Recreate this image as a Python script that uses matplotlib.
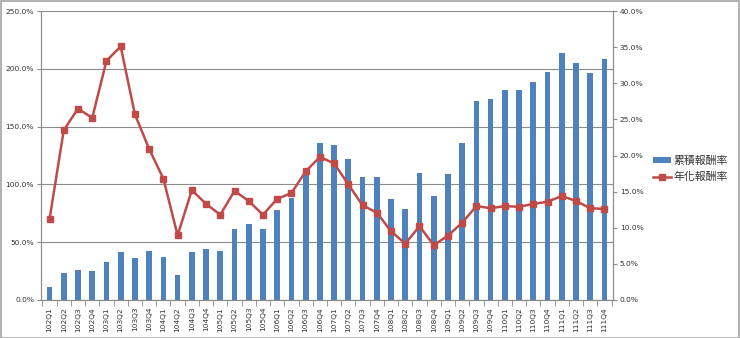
import numpy as np
import matplotlib.pyplot as plt
from matplotlib.ticker import FuncFormatter, FixedLocator
from matplotlib.patches import Rectangle

plt.rcParams['font.family'] = ['DejaVu Sans', 'Noto Sans CJK TC']

quarters = [f'{y}Q{q}' for y in range(102, 112) for q in range(1, 5)]

# cumulative return (%), left axis
cum_ret = [11.0, 23.1, 26.0, 25.1, 32.9, 41.8, 36.6, 42.4, 36.9, 21.9,
           41.8, 43.8, 42.4, 61.1, 65.7, 61.1, 77.9, 88.2, 111.0, 136.1,
           133.8, 121.7, 106.7, 106.1, 87.1, 79.0, 109.6, 90.0, 109.0, 135.5,
           171.9, 174.2, 182.0, 181.7, 188.6, 197.2, 213.4, 204.7, 196.4, 208.5]

# annualized return (%), right axis
ann_ret = [11.2, 23.5, 26.5, 25.2, 33.1, 35.1, 25.7, 20.9, 16.8, 8.95,
           15.2, 13.3, 11.8, 15.1, 13.7, 11.8, 14.0, 14.8, 17.8, 19.8,
           18.9, 16.0, 13.1, 12.1, 9.5, 7.8, 10.2, 7.6, 8.9, 10.7,
           13.0, 12.7, 13.0, 12.9, 13.3, 13.6, 14.4, 13.7, 12.7, 12.6]

BLUE = '#4F81BD'
RED = '#BE4B48'
GRID = '#8C8C8C'
TXT = '#333333'

fig = plt.figure(figsize=(7.4, 3.38), dpi=100)
ax = fig.add_axes([41 / 740, 38 / 338, 572 / 740, 289 / 338])
ax2 = ax.twinx()

x = np.arange(len(quarters))
bars = ax.bar(x, cum_ret, width=0.4, color=BLUE, zorder=2)
line, = ax2.plot(x, ann_ret, color=RED, lw=1.8, marker='s', markersize=5,
                 markerfacecolor=RED, markeredgecolor=RED, zorder=3)

ax.set_xlim(-0.6, len(quarters) - 0.4)
ax.set_ylim(0, 250)
ax2.set_ylim(0, 40)
ax.set_yticks(np.arange(0, 251, 50))
ax2.set_yticks(np.arange(0, 41, 5))
ax.yaxis.set_major_formatter(FuncFormatter(lambda v, p: f'{v:.1f}%'))
ax2.yaxis.set_major_formatter(FuncFormatter(lambda v, p: f'{v:.1f}%'))

ax.grid(axis='y', color=GRID, lw=0.8, zorder=0)
ax.set_axisbelow(True)

# category labels centred, tick marks between categories
ax.set_xticks(x)
ax.set_xticklabels(quarters, rotation=90, fontsize=5.4, color=TXT)
ax.xaxis.set_minor_locator(FixedLocator(np.arange(-0.5, len(quarters), 1)))
ax.tick_params(axis='x', which='major', length=0, pad=5)
ax.tick_params(axis='x', which='minor', length=4, color=GRID)
ax.tick_params(axis='y', labelsize=5.4, labelcolor=TXT, length=3, color=GRID, pad=2)
ax2.tick_params(axis='y', labelsize=5.4, labelcolor=TXT, length=3, color=GRID, pad=2)

for a in (ax, ax2):
    a.spines['top'].set_visible(False)
    for s in ('left', 'right', 'bottom'):
        a.spines[s].set_color(GRID)

leg = fig.legend(handles=[bars, line], labels=['累積報酬率', '年化報酬率'],
                 loc='center left', bbox_to_anchor=(643 / 740, 1 - 169 / 338),
                 frameon=False, handlelength=1.7, handletextpad=0.2,
                 labelspacing=0.55, handleheight=0.5,
                 prop={'family': ['Noto Sans CJK TC', 'DejaVu Sans'], 'size': 7.8})
for t in leg.get_texts():
    t.set_color(TXT)

fig.patches.append(Rectangle((0.001, 0.001), 0.997, 0.995, transform=fig.transFigure,
                             fill=False, edgecolor='#A6A6A6', lw=1.2))

fig.savefig('out.png', dpi=100)
